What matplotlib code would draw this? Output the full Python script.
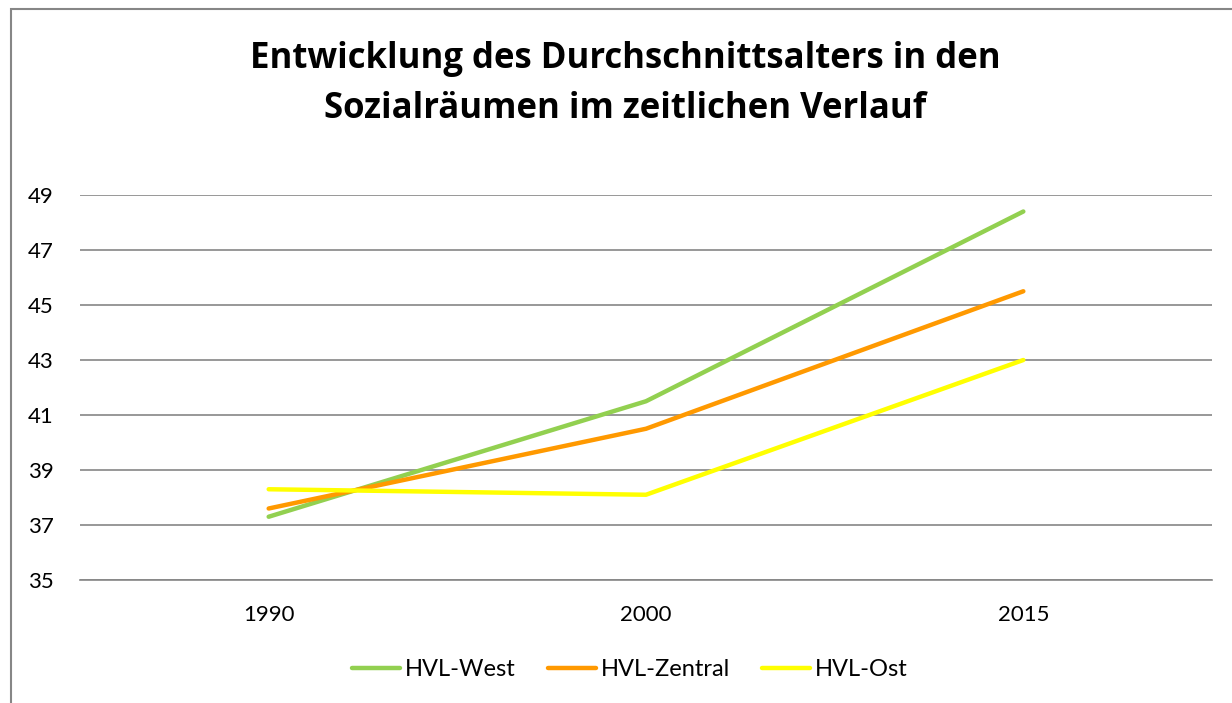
import matplotlib.pyplot as plt
from matplotlib.patches import Rectangle

years = ['1990', '2000', '2015']
west = [37.3, 41.5, 48.4]
zentral = [37.6, 40.5, 45.5]
ost = [38.3, 38.1, 43.0]
series_names = ['HVL-West', 'HVL-Zentral', 'HVL-Ost']
series_colors = ['#92D050', '#FF9900', '#FFFF00']
y_ticks = [35, 37, 39, 41, 43, 45, 47, 49]

plt.rcParams['font.family'] = ['Lato', 'DejaVu Sans']

fig = plt.figure(figsize=(12.32, 7.03), dpi=100)
W, H = 1232, 703

# outer chart border (cut off at right and bottom as in the screenshot)
fig.patches.append(Rectangle((11 / W, -0.05), 1.2, 1 - 9 / H + 0.05,
                             transform=fig.transFigure, fill=False,
                             edgecolor='#868686', linewidth=1.5))

ax = fig.add_axes([80 / W, 1 - 580 / H, (1212 - 80) / W, (580 - 195) / H])
x = list(range(len(years)))
for vals, name, col in zip([west, zentral, ost], series_names, series_colors):
    ax.plot(x, vals, color=col, linewidth=3.2, solid_capstyle='round',
            solid_joinstyle='round', label=name, zorder=3)

ax.set_xlim(-0.5, len(years) - 0.5)
ax.set_ylim(35, 49)
ax.set_yticks(y_ticks)
ax.set_xticks(x)
ax.set_xticklabels(years)
ax.yaxis.grid(True, color='#868686', linewidth=1.2)
ax.set_axisbelow(True)
for s in ['left', 'right', 'top']:
    ax.spines[s].set_visible(False)
ax.spines['bottom'].set_color('#868686')
ax.spines['bottom'].set_linewidth(1.2)
ax.tick_params(axis='both', length=0, labelsize=16, colors='black')
ax.tick_params(axis='y', pad=19)
ax.tick_params(axis='x', pad=18)

fig.text(625 / W, 1 - 84 / H,
         'Entwicklung des Durchschnittsalters in den\nSozialräumen im zeitlichen Verlauf',
         ha='center', va='center', fontsize=25, fontweight='bold',
         family=['Open Sans', 'DejaVu Sans'], linespacing=1.55)

fig.legend(loc='center', bbox_to_anchor=(630 / W, 1 - 670 / H), ncol=3,
           frameon=False, fontsize=17, handlelength=2.05, handletextpad=0.2,
           columnspacing=1.35)

fig.savefig('out.png', dpi=100)
